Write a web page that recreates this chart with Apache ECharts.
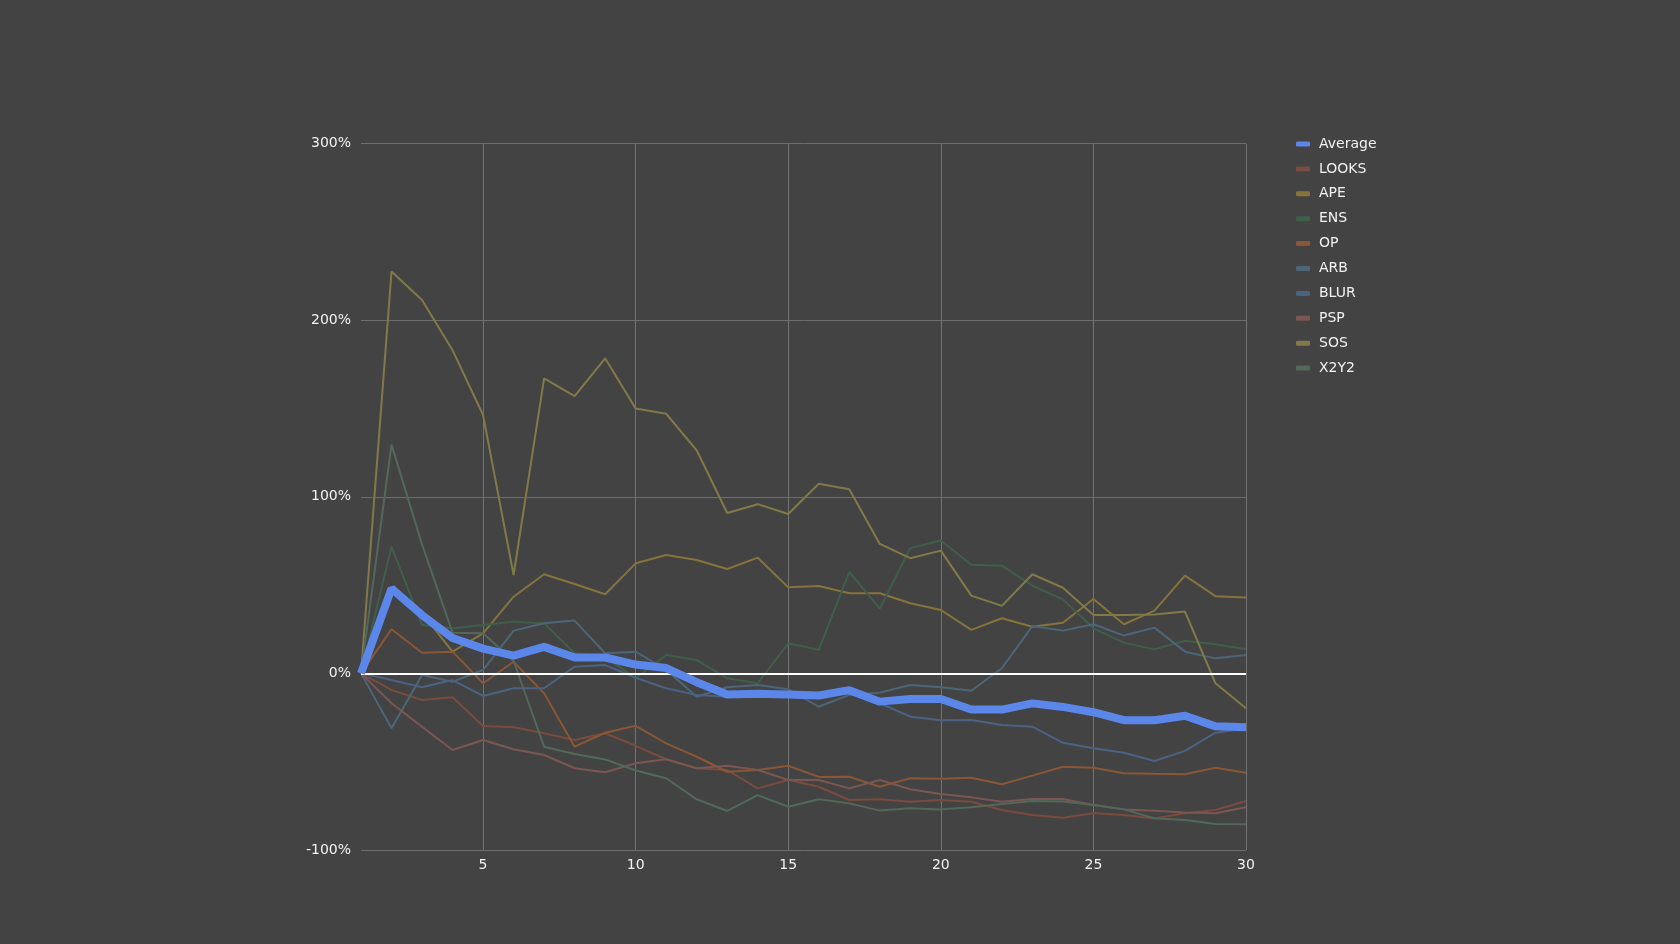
<!DOCTYPE html>
<html>
<head>
<meta charset="utf-8">
<script src="https://cdn.jsdelivr.net/npm/echarts@6/dist/echarts.min.js"></script>
<style>
html,body{margin:0;padding:0;background:#434343;}
#chart{width:1680px;height:944px;}
</style>
</head>
<body>
<div id="chart"></div>
<script>
const days = Array.from({length: 30}, (_, i) => String(i + 1));
const yTicks = [-100, 0, 100, 200, 300];

const seriesNames = ['Average', 'LOOKS', 'APE', 'ENS', 'OP', 'ARB', 'BLUR', 'PSP', 'SOS', 'X2Y2'];

const average = [0, 48, 33, 20, 14, 10, 15, 9, 9, 5, 3, -5, -12, -11.5, -12, -12.5, -9.5, -16, -14.5, -14.5, -20.5, -20.5, -17, -19, -22, -26.5, -26.5, -24, -30, -30.5];
const looks = [0, -9.4, -15.1, -13.5, -29.8, -30.5, -33.9, -37.7, -33.9, -41, -48.6, -53.7, -54.7, -65.1, -60.4, -64.2, -71.7, -71.3, -72.7, -71.7, -72.7, -77.4, -80.2, -81.7, -79.2, -80.2, -82.1, -79.2, -77.4, -72.3];
const ape = [0, 46, 34, 12.3, 22.7, 43.4, 56.1, 50.6, 44.8, 62.3, 67, 64.2, 59.1, 65.5, 48.7, 49.5, 45.4, 45.4, 39.7, 35.9, 24.6, 31.2, 26.4, 28.7, 42.1, 27.8, 35.5, 55.3, 43.7, 42.9];
const ens = [0, 71.8, 27.4, 25.5, 27.4, 29.3, 28.3, 11.4, 9.5, -2.8, 10.4, 7.6, -2.8, -5.6, 17, 13.3, 57.4, 36.7, 70.9, 75.2, 61.5, 61, 49.6, 41.9, 25.5, 17.4, 13.6, 18.5, 16.5, 13.6];
const op = [0, 25, 11.7, 12.3, -5.6, 6.6, -11.3, -41.5, -33.6, -29.7, -39.6, -47.2, -55.7, -54.7, -52.3, -58.6, -58.5, -64.2, -59.4, -59.7, -59.1, -62.8, -57.9, -52.9, -53.4, -56.6, -56.9, -57.1, -53.4, -56.2];
const arb = [0, -31.1, -0.9, -4.7, 1.9, 24.2, 28.4, 29.9, 11.4, 12.3, 2, -13.2, -7.9, -6.6, -9, -18.9, -12.2, -10.9, -6.6, -7.9, -9.8, 2.9, 26.8, 24.2, 27.8, 21.4, 25.9, 12.3, 8.5, 10.4];
const blur = [0, -3.8, -7.9, -3.8, -12.8, -8.4, -8.4, 3.8, 4.7, -2.5, -8.4, -12.2, -13.2, -11, -12, -13, -11, -16.9, -24.5, -26.5, -26.4, -29.2, -30.2, -39.3, -42.4, -44.9, -49.6, -43.9, -33.6, -31.1];
const psp = [0, -16.9, -30.2, -43.4, -37.7, -43, -46.2, -53.7, -56, -50.9, -48.6, -53.7, -52.3, -54.7, -60.4, -60.4, -65.1, -60.4, -65.6, -68.3, -70.2, -72.7, -71.1, -71.1, -74.5, -77, -77.8, -78.7, -79.2, -75.8];
const sos = [0, 227.5, 211.4, 183, 146.3, 55.7, 167, 157, 178.4, 150, 147, 126.3, 90.8, 95.8, 90.2, 107.4, 104.2, 73.3, 65.2, 69.5, 44, 38.2, 56.1, 48.5, 33.1, 33.1, 33.4, 35, -5.6, -19.8];
const x2y2 = [0, 129.5, 73, 23, 22.7, 7, -41.5, -45.6, -48.7, -55, -59.4, -71.3, -77.9, -68.9, -75.5, -71.3, -73.6, -77.7, -76.4, -77, -75.8, -74, -72.3, -72.6, -74.5, -77, -82, -83, -85.3, -85.4];

const seriesData = [average, looks, ape, ens, op, arb, blur, psp, sos, x2y2];
const colors = ['#5b86ea', '#7a4b3f', '#86743c', '#3f5f4b', '#8a5636', '#4c6677', '#4b6283', '#7b5653', '#817a48', '#52685a'];

const chart = echarts.init(document.getElementById('chart'));
const every5 = (i) => (i + 1) % 5 === 0;

const series = seriesNames.map((name, k) => {
  const s = {
    name: name,
    type: 'line',
    data: seriesData[k],
    symbol: 'none',
    showSymbol: false,
    smooth: false,
    z: k === 0 ? 4 : 2,
    lineStyle: { color: colors[k], width: k === 0 ? 8 : 2 },
    itemStyle: { color: colors[k] },
    emphasis: { disabled: true },
    animation: false
  };
  if (k === 1) {
    s.markLine = {
      silent: true,
      symbol: 'none',
      z: 3,
      label: { show: false },
      lineStyle: { color: '#ffffff', width: 2, type: 'solid' },
      data: [{ yAxis: 0 }],
      animation: false
    };
  }
  return s;
});

chart.setOption({
  backgroundColor: '#434343',
  animation: false,
  textStyle: { fontFamily: 'DejaVu Sans' },
  grid: { left: 361, right: 434, top: 143.5, bottom: 94, containLabel: false },
  legend: {
    orient: 'vertical',
    left: 1291,
    top: 132,
    icon: 'roundRect',
    itemWidth: 14,
    itemHeight: 5,
    itemGap: 10.9,
    data: seriesNames,
    textStyle: { color: '#f2f2f2', fontSize: 14, fontFamily: 'DejaVu Sans', padding: [0, 0, 0, 4] }
  },
  xAxis: {
    type: 'category',
    data: days,
    boundaryGap: false,
    axisLine: { show: true, lineStyle: { color: '#6e6e6e', width: 1 } },
    axisTick: { show: false },
    axisLabel: { interval: every5, color: '#f2f2f2', fontSize: 14, margin: 8 },
    splitLine: { show: true, interval: every5, lineStyle: { color: '#747474', width: 1 } }
  },
  yAxis: {
    type: 'value',
    min: yTicks[0],
    max: yTicks[yTicks.length - 1],
    interval: 100,
    axisLine: { show: false },
    axisTick: { show: false },
    axisLabel: { formatter: '{value}%', color: '#f2f2f2', fontSize: 14, margin: 10 },
    splitLine: { show: true, lineStyle: { color: '#6e6e6e', width: 1 } }
  },
  series: series
});
</script>
</body>
</html>
